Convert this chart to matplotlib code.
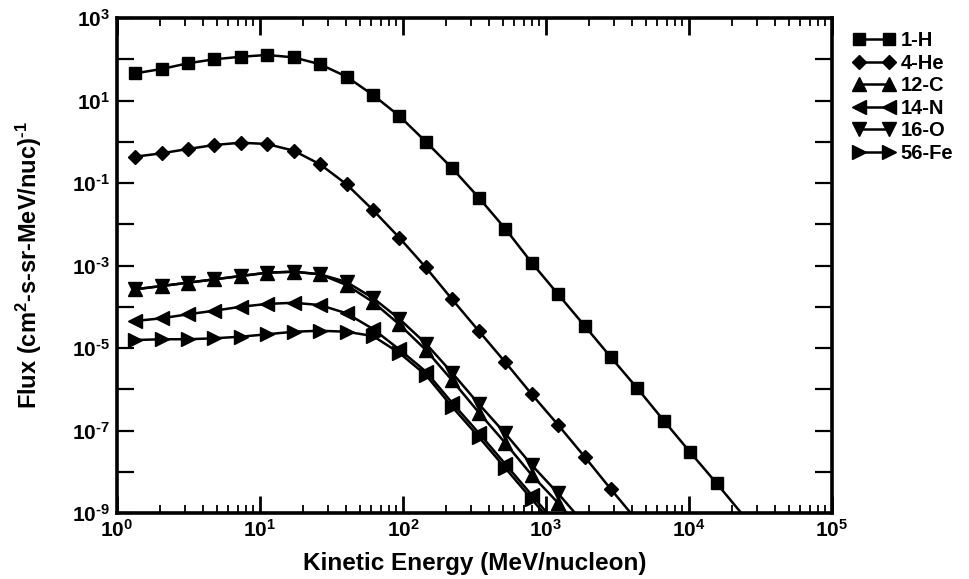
import numpy as np
import matplotlib
matplotlib.use("Agg")
import matplotlib.pyplot as plt
from matplotlib.ticker import LogLocator, FuncFormatter, NullFormatter

plt.rcParams['font.family'] = ['Liberation Sans', 'DejaVu Sans']
plt.rcParams['font.weight'] = 'bold'
plt.rcParams['mathtext.fontset'] = 'custom'
plt.rcParams['mathtext.rm'] = 'Liberation Sans:bold'
plt.rcParams['mathtext.bf'] = 'Liberation Sans:bold'
plt.rcParams['mathtext.it'] = 'Liberation Sans:bold'
plt.rcParams['mathtext.sf'] = 'Liberation Sans:bold'
plt.rcParams['mathtext.default'] = 'rm'

# Energy grid (MeV/nucleon)
energy = [1.34, 2.05, 3.13, 4.79, 7.34, 11.2, 17.2, 26.3, 40.3, 61.7, 94.4, 144.5,
          221, 339, 519, 794, 1216, 1860, 2845, 4355, 6670, 10200, 15600, 26000]

flux_H = [45.6, 58, 79.8, 99.8, 115, 127, 111, 75.5, 37.8, 13.6, 4.2, 1.0,
          0.227, 0.044, 7.8e-3, 1.17e-3, 2.0e-4, 3.47e-5, 5.94e-6, 1.05e-6,
          1.73e-7, 2.96e-8, 5.25e-9, 6.2e-10]
flux_He = [0.434, 0.525, 0.667, 0.834, 0.948, 0.882, 0.607, 0.284, 0.093, 0.0221,
           4.69e-3, 8.95e-4, 1.5e-4, 2.58e-5, 4.53e-6, 7.59e-7, 1.36e-7, 2.32e-8,
           3.76e-9, 6.4e-10]
flux_C = [2.65e-4, 3.18e-4, 3.83e-4, 4.62e-4, 5.56e-4, 6.68e-4, 7.08e-4, 6.12e-4,
          3.37e-4, 1.30e-4, 3.72e-5, 8.95e-6, 1.63e-6, 2.73e-7, 4.98e-8, 8.34e-9,
          1.75e-9, 3.2e-10]
flux_N = [4.52e-5, 5.25e-5, 6.56e-5, 8.02e-5, 1.0e-4, 1.17e-4, 1.25e-4, 1.10e-4,
          6.93e-5, 2.89e-5, 9.2e-6, 2.69e-6, 4.64e-7, 8.69e-8, 1.54e-8, 2.73e-9,
          4.84e-10]
flux_O = [2.65e-4, 3.18e-4, 3.83e-4, 4.62e-4, 5.56e-4, 6.68e-4, 7.08e-4, 6.12e-4,
          3.98e-4, 1.63e-4, 5.05e-5, 1.28e-5, 2.48e-6, 4.39e-7, 8.46e-8, 1.46e-8,
          2.97e-9, 5.4e-10]
flux_Fe = [1.56e-5, 1.63e-5, 1.63e-5, 1.72e-5, 1.88e-5, 2.15e-5, 2.48e-5, 2.62e-5,
           2.48e-5, 1.95e-5, 7.57e-6, 2.21e-6, 3.72e-7, 6.95e-8, 1.23e-8, 2.18e-9,
           3.87e-10]

labels = ['1-H', '4-He', '12-C', '14-N', '16-O', '56-Fe']
series = [flux_H, flux_He, flux_C, flux_N, flux_O, flux_Fe]
markers = ['s', 'D', '^', '<', 'v', '>']
msizes = [8.5, 7.5, 9.5, 9.5, 9.5, 9.5]

fig = plt.figure(figsize=(9.7, 5.79), dpi=100)
ax = fig.add_axes([117/970, 66/579, 715/970, 495/579])

for lab, fl, mk, ms in zip(labels, series, markers, msizes):
    n = len(fl)
    ax.plot(energy[:n], fl, color='black', lw=1.8, marker=mk, ms=ms,
            markevery=slice(0, n - 1), label=lab, clip_on=True)

ax.set_xscale('log')
ax.set_yscale('log')
ax.set_xlim(1, 1e5)
ax.set_ylim(1e-9, 1e3)


def sup(e):
    s = str(abs(e))
    if e < 0:
        return r'$10^{\text{-}%s}$' % s
    return r'$10^{%s}$' % s


ax.xaxis.set_major_locator(LogLocator(base=10, numticks=10))
ax.xaxis.set_minor_locator(LogLocator(base=10, subs=np.arange(2, 10), numticks=50))
ax.xaxis.set_minor_formatter(NullFormatter())
ax.xaxis.set_major_formatter(FuncFormatter(
    lambda v, p: sup(int(round(np.log10(v))))))

ax.yaxis.set_major_locator(LogLocator(base=10, numticks=20))
ax.yaxis.set_minor_locator(matplotlib.ticker.NullLocator())


def yfmt(v, p):
    e = int(round(np.log10(v)))
    return sup(e) if e % 2 != 0 else ''


ax.yaxis.set_major_formatter(FuncFormatter(yfmt))

ax.tick_params(axis='x', which='major', direction='in', length=12, width=2,
               top=True, labelsize=15, pad=4)
ax.tick_params(axis='x', which='minor', direction='in', length=6, width=1.3,
               top=True)
ax.tick_params(axis='y', which='major', direction='in', length=12, width=1.6,
               right=True, labelsize=15, pad=5)

for sp in ax.spines.values():
    sp.set_linewidth(2.6)

ax.set_xlabel('Kinetic Energy (MeV/nucleon)', fontsize=17.5, fontweight='bold',
              labelpad=8)
ax.set_ylabel(r'Flux (cm$^{2}$-s-sr-MeV/nuc)$^{\text{-}1}$', fontsize=17,
              fontweight='bold', labelpad=20)

leg = ax.legend(loc='upper left', bbox_to_anchor=(853/970, (579-31)/579),
                bbox_transform=fig.transFigure, frameon=False, fontsize=14.5,
                numpoints=2, handlelength=2.1, handletextpad=0.25,
                labelspacing=0.18, borderpad=0, borderaxespad=0)

fig.savefig('out.png', dpi=100)
